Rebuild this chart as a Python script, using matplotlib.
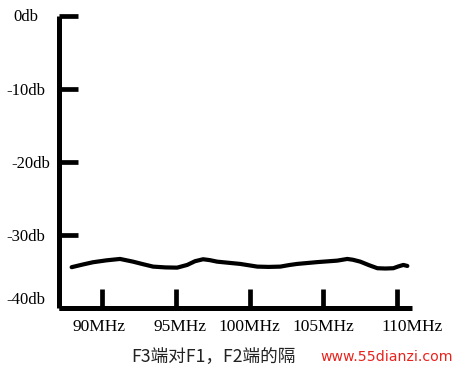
import matplotlib
matplotlib.use("Agg")
import matplotlib.pyplot as plt
import matplotlib.transforms as mtransforms

# Isolation curve (MHz, dB)
freq_mhz = [87.94, 88.70, 89.39, 90.30, 91.22, 92.10, 92.80, 93.46, 94.30, 95.09,
            95.77, 96.30, 96.85, 97.30, 97.80, 98.60, 99.36, 100.52, 101.30, 102.08,
            102.70, 103.23, 104.60, 105.94, 106.62, 107.00, 107.50, 108.10, 108.66,
            109.20, 109.74, 110.10, 110.42, 110.69]
isolation_db = [-34.42, -34.05, -33.74, -33.48, -33.29, -33.66, -34.02, -34.34, -34.45, -34.48,
                -34.11, -33.60, -33.33, -33.45, -33.66, -33.82, -33.97, -34.34, -34.38, -34.34,
                -34.12, -33.97, -33.72, -33.52, -33.29, -33.40, -33.66, -34.15, -34.56,
                -34.60, -34.56, -34.30, -34.11, -34.25]

x_ticks = [90, 95, 100, 105, 110]
x_labels = ["90MHz", "95MHz", "100MHz", "105MHz", "110MHz"]
y_ticks = [0, -10, -20, -30, -40]
y_labels = ["0db", "-10db", "-20db", "-30db", "-40db"]

caption = "F3端对F1，F2端的隔"
watermark = "www.55dianzi.com"

fig = plt.figure(figsize=(4.57, 3.71), dpi=100)
ax = fig.add_axes([0.129, 0.170, 0.773, 0.787])

ax.plot(freq_mhz, isolation_db, color="black", lw=3.0,
        solid_capstyle="round", solid_joinstyle="round")

ax.set_xlim(87.08, 111.02)
ax.set_ylim(-40, 0)

for side in ("top", "right"):
    ax.spines[side].set_visible(False)
for side in ("left", "bottom"):
    ax.spines[side].set_linewidth(3.6)
    ax.spines[side].set_capstyle("butt")

serif = "Liberation Serif"
ax.set_xticks(x_ticks)
ax.set_xticklabels(x_labels, fontfamily=serif, fontsize=12.5)
ax.set_yticks(y_ticks)
ax.set_yticklabels(y_labels, fontfamily=serif, fontsize=12)
ax.tick_params(axis="x", direction="in", length=14, width=3.4, pad=8)
ax.tick_params(axis="y", direction="in", length=14, width=3.4, pad=10)

# shift a few labels the way the original has them
offsets = {("x", 0): (-2, 0), ("x", 1): (3, 0), ("x", 4): (11, 0),
           ("y", 0): (-5, 1), ("y", 2): (4, 0), ("y", 4): (0, 7)}
for (axis, i), (dx, dy) in offsets.items():
    lab = (ax.get_xticklabels() if axis == "x" else ax.get_yticklabels())[i]
    lab.set_transform(lab.get_transform()
                      + mtransforms.ScaledTranslation(dx / 72, dy / 72, fig.dpi_scale_trans))

fig.text(0.468, 0.038, caption, ha="center", va="center", fontsize=12.7,
         family=["Noto Sans CJK SC", "DejaVu Sans"], color="#222222")
fig.text(0.846, 0.038, watermark, ha="center", va="center", fontsize=10.2,
         family="DejaVu Sans", color="#e8231e")

fig.savefig("out.png", dpi=100)
